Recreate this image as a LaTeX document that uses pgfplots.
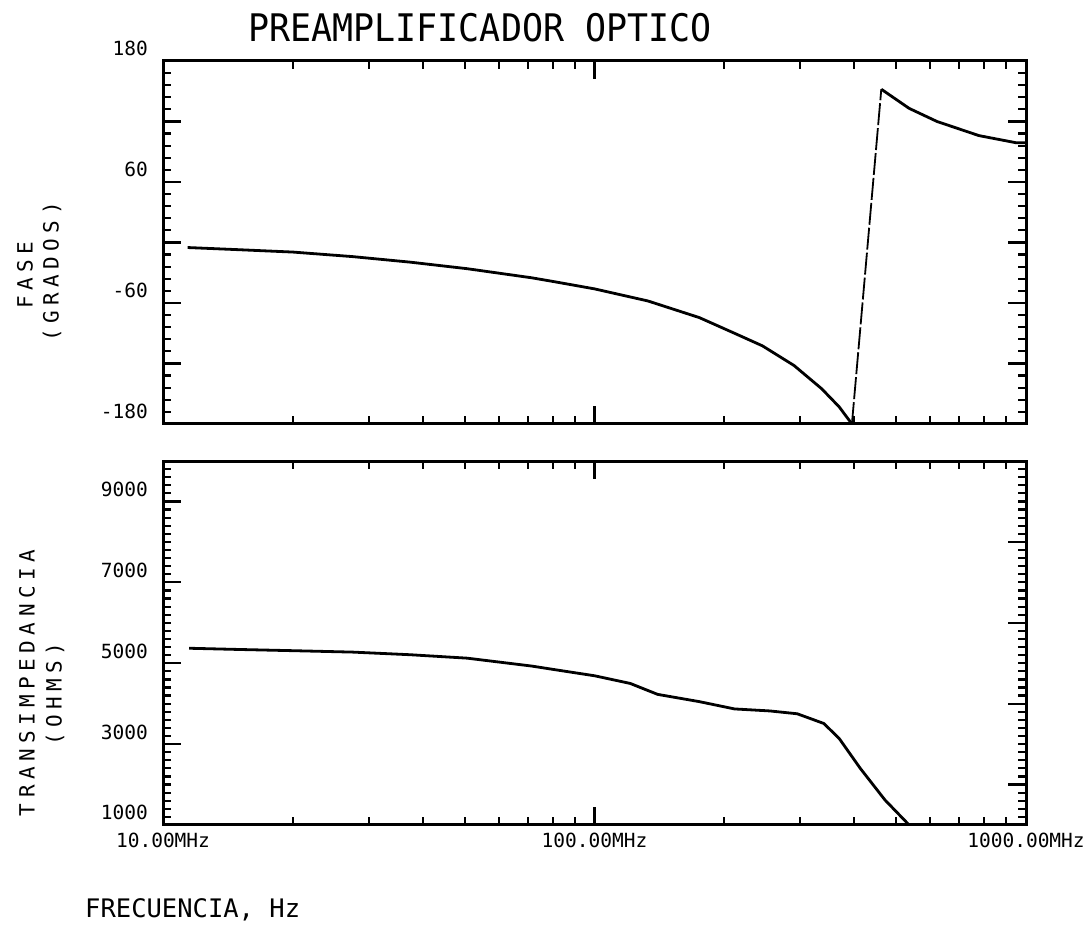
\documentclass[border=0pt]{standalone}
\usepackage{fontspec}
\setmainfont{DejaVu Sans Mono}
\newfontfamily\ylabfont[LetterSpace=26]{DejaVu Sans Mono}
\newfontfamily\titlefont[FakeStretch=0.92]{DejaVu Sans Mono}
\usepackage{pgfplots}
\pgfplotsset{compat=1.18}

\pgfplotsset{
  myaxisstyle/.style={
    scale only axis,
    width=863pt,
    axis line style={line width=3pt, black},
    tick style={line width=2.2pt, black},
    major tick length=18pt,
    minor tick length=8pt,
    tick align=inside,
    scaled y ticks=false,
    tick label style={font=\fontsize{19.5}{20}\selectfont},
    yticklabel style={anchor=base east, inner sep=0pt, xshift=-15pt, yshift=5pt},
    xticklabel style={anchor=north, inner sep=0pt, yshift=-8pt},
    clip=false,
  },
  mycurve/.style={black, line width=2.8pt, line join=round, no markers},
}

\begin{document}
\begin{tikzpicture}[x=1pt,y=1pt]
\useasboundingbox (0,0) rectangle (1091,928);

% ---------- top: phase ----------
\begin{axis}[myaxisstyle,
  xmode=log, xmin=10, xmax=1000,
  xtick={10,100,1000},
  minor xtick={20,30,40,50,60,70,80,90,200,300,400,500,600,700,800,900},
  at={(163pt,504pt)}, anchor=south west,
  height=363pt,
  ymin=-180, ymax=180,
  ytick={-180,-120,-60,0,60,120,180},
  yticklabels={-180,{},-60,{},60,{},180},
  minor ytick={-168,-156,...,180},
  xticklabels={},
]
\addplot[mycurve] coordinates {
(11.4,-5) (14.7,-7) (20,-9.5) (27.5,-14) (37.4,-19.5) (50.7,-26)
(71.5,-35) (81,-39) (100,-46) (133,-58) (175,-74.5) (211,-90)
(245,-102.5) (290,-122) (336,-145) (369,-163) (395,-180)
};
\addplot[black, line width=1.8pt, dash pattern=on 22pt off 3pt, no markers] coordinates {
(395,-180) (462,152)
};
\addplot[mycurve] coordinates {
(462,152) (536,133) (622,120) (778,106) (946,99) (1000,99)
};
\end{axis}

% ---------- bottom: transimpedance ----------
\begin{axis}[myaxisstyle,
  xmode=log, xmin=10, xmax=1000,
  xtick={10,100,1000},
  minor xtick={20,30,40,50,60,70,80,90,200,300,400,500,600,700,800,900},
  at={(163pt,103pt)}, anchor=south west,
  height=364pt,
  ymin=1000, ymax=10000,
  ytick={1000,3000,5000,7000,9000},
  yticklabels={1000,3000,5000,7000,9000},
  minor ytick={1200,1400,...,9800},
  ytick pos=left,
  xticklabels={10.00MHz,100.00MHz,1000.00MHz},
]
\addplot[mycurve] coordinates {
(11.5,5370) (15,5340) (20,5310) (27.5,5275) (37.4,5210) (50.7,5125)
(71.5,4930) (81,4840) (100,4690) (121,4500) (140,4230) (175,4050)
(211,3870) (255,3820) (295,3750) (340,3510) (369,3140) (413,2400)
(471,1620) (536,1000)
};
\end{axis}
% right-hand ticks of the lower panel (even thousands)
\begin{axis}[
  at={(163pt,103pt)}, anchor=south west,
  scale only axis, width=863pt, height=364pt,
  xmin=0, xmax=1, ymin=1000, ymax=10000,
  scaled y ticks=false,
  hide x axis,
  axis y line*=right,
  axis line style={line width=3pt, black},
  tick style={line width=2.2pt, black},
  major tick length=18pt, minor tick length=8pt,
  tick align=inside,
  ytick={2000,4000,6000,8000},
  yticklabels={},
  minor ytick={1200,1400,...,9800},
]
\end{axis}

% ---------- texts ----------
\node[font=\titlefont\fontsize{38}{40}\selectfont] at (480,900) {PREAMPLIFICADOR OPTICO};

\node[rotate=90, font=\ylabfont\fontsize{21}{22}\selectfont] at (25,653) {FASE};
\node[rotate=90, font=\ylabfont\fontsize{21}{22}\selectfont] at (52,656) {(GRADOS)};

\node[rotate=90, font=\ylabfont\fontsize{21}{22}\selectfont] at (27,245) {TRANSIMPEDANCIA};
\node[rotate=90, font=\ylabfont\fontsize{21}{22}\selectfont] at (55,234) {(OHMS)};

\node[anchor=west, inner sep=0pt, font=\fontsize{25.5}{26}\selectfont] at (85,18) {FRECUENCIA, Hz};
\end{tikzpicture}
\end{document}
